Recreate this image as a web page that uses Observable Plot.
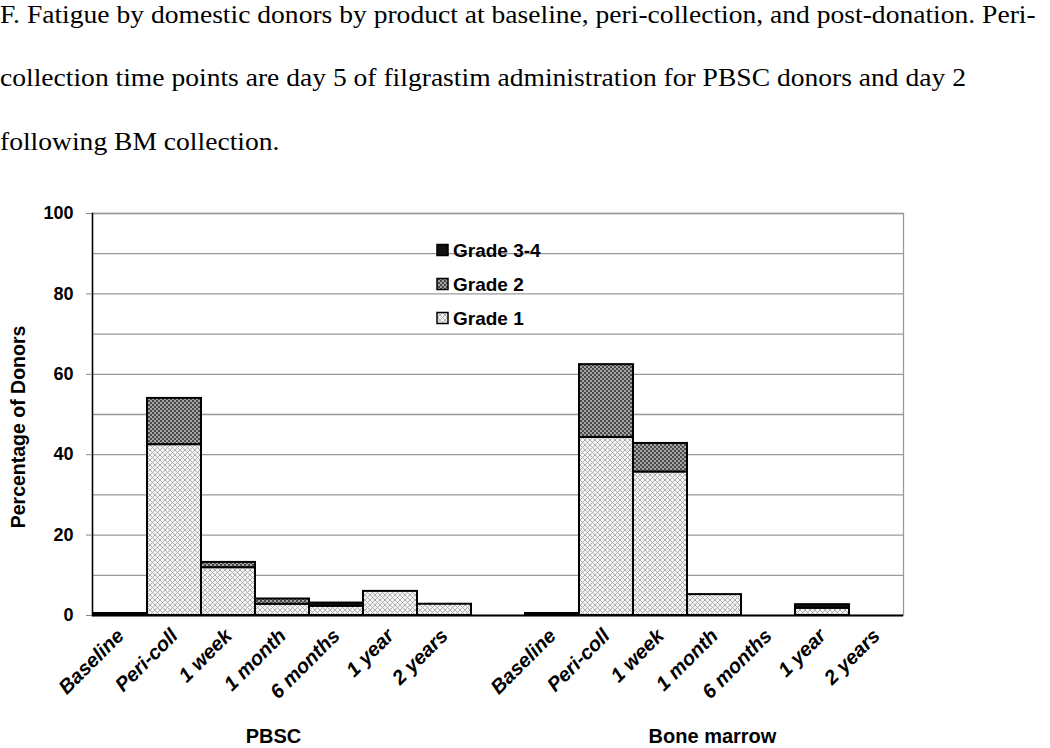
<!DOCTYPE html>
<html><head><meta charset="utf-8">
<script src="https://cdn.jsdelivr.net/npm/d3@7"></script>
<script src="https://cdn.jsdelivr.net/npm/@observablehq/plot@0.6"></script>
<style>
body{margin:0;background:#fff;}
#title{position:relative;height:190px;font-family:"Liberation Serif","Times New Roman",serif;font-size:26px;color:#000;}
#title div{position:absolute;left:0;line-height:1.15;white-space:nowrap;transform:scaleX(1.06);transform-origin:0 0;}
#chart svg{display:block;}
</style></head><body>
<div id="title">
<div style="top:0px">F. Fatigue by domestic donors by product at baseline, peri-collection, and post-donation. Peri-</div>
<div style="top:63px">collection time points are day 5 of filgrastim administration for PBSC donors and day 2</div>
<div style="top:127px">following BM collection.</div>
</div>
<div id="chart"></div>
<script>
// ---- data ----
const timepoints = ["Baseline", "Peri-coll", "1 week", "1 month", "6 months", "1 year", "2 years"];
const groups = ["PBSC", "Bone marrow"];
const grades = ["Grade 1", "Grade 2", "Grade 3-4"];
const legendOrder = ["Grade 3-4", "Grade 2", "Grade 1"];
const pbscGrade1 = [0.5, 42.5, 11.9, 2.8, 2.3, 6.0, 2.8];
const pbscGrade2 = [0, 11.5, 1.3, 1.3, 0, 0, 0];
const pbscGrade34 = [0, 0, 0, 0, 0.8, 0, 0];
const bmGrade1 = [0.5, 44.3, 35.7, 5.2, 0, 1.8, 0];
const bmGrade2 = [0, 18.1, 7.1, 0, 0, 0, 0];
const bmGrade34 = [0, 0, 0, 0, 0, 0.9, 0];
const yTicks = [0, 20, 40, 60, 80, 100];
const yGrid = [10, 20, 30, 40, 50, 60, 70, 80, 90, 100];
const yLabel = "Percentage of Donors";

// ---- build table ----
const series = {
  "PBSC": {"Grade 1": pbscGrade1, "Grade 2": pbscGrade2, "Grade 3-4": pbscGrade34},
  "Bone marrow": {"Grade 1": bmGrade1, "Grade 2": bmGrade2, "Grade 3-4": bmGrade34}
};
const rows = [];
for (const g of groups) for (const gr of grades) series[g][gr].forEach((v, i) => {
  if (v > 0) rows.push({key: g + "|" + timepoints[i], group: g, time: timepoints[i], grade: gr, value: v});
});
const domain = [...timepoints.map(t => "PBSC|" + t), "gap", ...timepoints.map(t => "Bone marrow|" + t)];
const fills = ["url(#pat-g1)", "url(#pat-g2)", "#111"];
const font = "'Liberation Sans', Arial, sans-serif";

const chart = Plot.plot({
  width: 1050, height: 558,
  marginTop: 23, marginBottom: 133, marginLeft: 92, marginRight: 147,
  style: {fontFamily: font, color: "#000", background: "#fff"},
  x: {type: "band", domain, padding: 0, label: null},
  y: {domain: [0, 100], label: null},
  color: {domain: grades, range: fills},
  marks: [
    Plot.ruleY(yGrid, {stroke: "#999", strokeWidth: 1.3}),
    Plot.frame({stroke: "#999", strokeWidth: 1.3}),
    Plot.barY(rows, {x: "key", y: "value", fill: "grade", stroke: "#000", strokeWidth: 2}),
    Plot.ruleY([0], {stroke: "#000", strokeWidth: 2}),
    Plot.frame({anchor: "left", stroke: "#000", strokeWidth: 1.5}),
    Plot.axisY(yTicks, {tickSize: 6, tickPadding: 13, stroke: "#888", fill: "#000", fontSize: 18, fontWeight: "bold", label: null}),
    Plot.axisX({tickSize: 0, tickRotate: -45, tickPadding: 17, fontSize: 20, fontWeight: "bold", fontStyle: "italic", label: null,
      tickFormat: d => d.includes("|") ? d.split("|")[1] : ""}),
    Plot.text([groups[0]], {x: () => groups[0] + "|" + timepoints[3], text: d => d, frameAnchor: "bottom", lineAnchor: "middle", dy: 121, dx: -9, fontSize: 20, fontWeight: "bold"}),
    Plot.text([groups[1]], {x: () => groups[1] + "|" + timepoints[3], text: d => d, frameAnchor: "bottom", lineAnchor: "middle", dy: 121, dx: -2, fontSize: 20, fontWeight: "bold"})
  ]
});

const svg = d3.select(chart);
svg.insert("defs", ":first-child").html(`
  <pattern id="pat-g1" patternUnits="userSpaceOnUse" width="5" height="5">
    <rect width="5" height="5" fill="#f4f4f4"/>
    <path d="M0,0L5,5M5,0L0,5" stroke="#a8a8a8" stroke-width="0.9"/>
  </pattern>
  <pattern id="pat-g2" patternUnits="userSpaceOnUse" width="4" height="4">
    <rect width="4" height="4" fill="#4a4a4a"/>
    <circle cx="1" cy="1" r="0.9" fill="#d0d0d0"/>
    <circle cx="3" cy="3" r="0.9" fill="#d0d0d0"/>
  </pattern>`);

// y-axis title
svg.append("text").attr("transform", "translate(18,237) rotate(-90)")
  .attr("text-anchor", "middle").attr("dy", "0.35em")
  .attr("font-family", font).attr("font-size", 19.5).attr("font-weight", "bold").text(yLabel);

// legend inside plot area
const leg = svg.append("g").attr("font-family", font).attr("font-size", 19).attr("font-weight", "bold").attr("text-anchor", "start");
legendOrder.forEach((g, i) => {
  const cy = 60 + i * 34;
  leg.append("rect").attr("x", 437).attr("y", cy - 5.5).attr("width", 11).attr("height", 11)
    .attr("fill", fills[grades.indexOf(g)]).attr("stroke", "#000").attr("stroke-width", 1.5);
  leg.append("text").attr("x", 453).attr("y", cy).attr("dy", "0.35em").text(g);
});

document.getElementById("chart").appendChild(chart);
</script>
</body></html>
